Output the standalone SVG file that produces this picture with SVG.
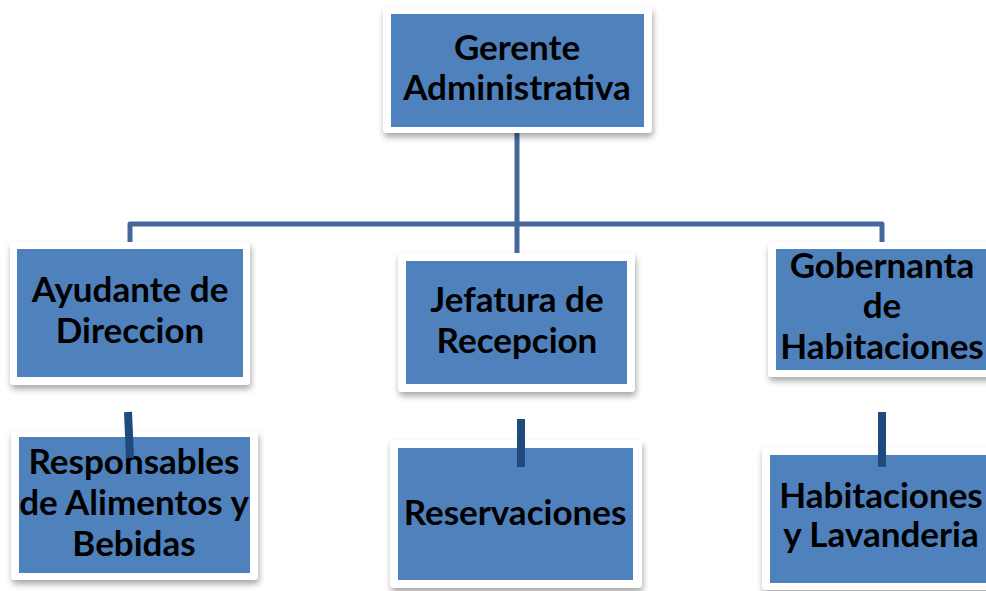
<svg xmlns="http://www.w3.org/2000/svg" width="986" height="591" viewBox="0 0 986 591">
<style>
.frame{fill:#ffffff;filter:url(#sh)}
.box{fill:#4f81bd}
.t{font-family:Lato,"Liberation Sans",sans-serif;font-weight:bold;font-size:35px;fill:#000;text-anchor:middle}
.ln{stroke:#44689a;stroke-width:5;fill:none;stroke-linejoin:round}
.sl{stroke:#1f4a7e;stroke-width:8;fill:none}
</style>
<defs>
<filter id="sh" x="-10%" y="-10%" width="125%" height="130%">
<feDropShadow dx="1" dy="4" stdDeviation="3" flood-color="#000" flood-opacity="0.35"/>
</filter>
</defs>
<g id="connectors">
<path class="ln" d="M517,133 V224"/>
<path class="ln" d="M130,242 V224 H882 V242"/>
<path class="ln" d="M517,224 V253"/>
</g>
<g id="n1">
<rect class="frame" x="383" y="7" width="269" height="126" rx="4"/>
<rect class="box" x="391" y="14" width="253" height="113"/>
<text class="t" x="517" y="60">Gerente</text>
<text class="t" x="517" y="100">Administrativa</text>
</g>
<g id="n2">
<rect class="frame" x="10" y="242" width="240" height="143" rx="4"/>
<rect class="box" x="17" y="249" width="226" height="128"/>
<text class="t" x="130" y="302">Ayudante de</text>
<text class="t" x="130" y="343">Direccion</text>
</g>
<g id="n3">
<rect class="frame" x="398" y="253" width="237" height="139" rx="4"/>
<rect class="box" x="406" y="261" width="221" height="123"/>
<text class="t" x="517" y="312">Jefatura de</text>
<text class="t" x="517" y="353">Recepcion</text>
</g>
<g id="n4">
<rect class="frame" x="768" y="242" width="230" height="135" rx="4"/>
<rect class="box" x="776" y="249" width="215" height="121"/>
<text class="t" x="882" y="278">Gobernanta</text>
<text class="t" x="882" y="318">de</text>
<text class="t" x="882" y="359">Habitaciones</text>
</g>
<g id="n5">
<rect class="frame" x="11" y="431" width="247" height="149" rx="4"/>
<rect class="box" x="19" y="437" width="231" height="136"/>
<text class="t" x="134" y="474">Responsables</text>
<text class="t" x="134" y="515">de Alimentos y</text>
<text class="t" x="134" y="556">Bebidas</text>
</g>
<g id="n6">
<rect class="frame" x="390" y="440" width="252" height="148" rx="4"/>
<rect class="box" x="398" y="448" width="235" height="132"/>
<text class="t" x="515" y="525">Reservaciones</text>
</g>
<g id="n7">
<rect class="frame" x="762" y="447" width="236" height="143" rx="4"/>
<rect class="box" x="770" y="455" width="221" height="128"/>
<text class="t" x="881" y="508">Habitaciones</text>
<text class="t" x="881" y="547">y Lavanderia</text>
</g>
<g id="stubs">
<path class="sl" d="M128,412 L130,458"/>
<path class="sl" d="M521,419 V467"/>
<path class="sl" d="M882,412 V467"/>
</g>
</svg>
